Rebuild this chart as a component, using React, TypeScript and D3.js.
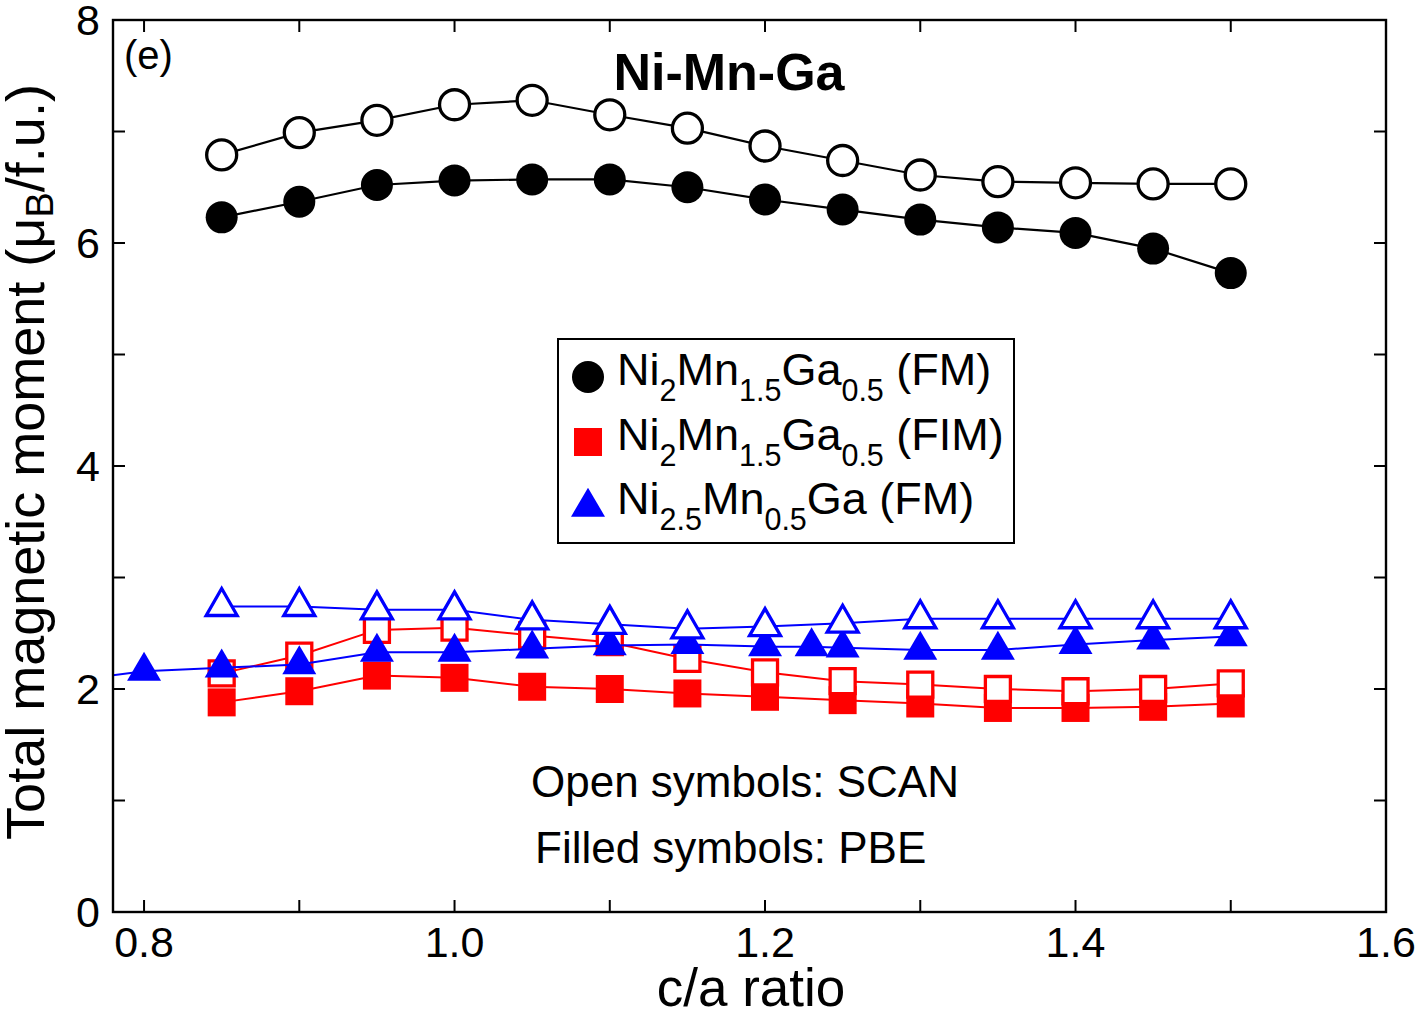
import React from "react";
import * as d3 from "d3";

// c/a ratios sampled for the Ni2Mn1.5Ga0.5 and Ni2.5Mn0.5Ga (SCAN) calculations
const caRatio = [0.85, 0.9, 0.95, 1.0, 1.05, 1.1, 1.15, 1.2, 1.25, 1.3, 1.35, 1.4, 1.45, 1.5];

// Ni2Mn1.5Ga0.5 (FM)
const fmPBE = [6.23, 6.37, 6.52, 6.56, 6.57, 6.57, 6.5, 6.39, 6.3, 6.21, 6.14, 6.09, 5.95, 5.73];
const fmSCAN = [6.79, 6.99, 7.1, 7.24, 7.28, 7.15, 7.03, 6.87, 6.74, 6.61, 6.55, 6.54, 6.53, 6.53];

// Ni2Mn1.5Ga0.5 (FIM)
const fimPBE = [1.88, 1.98, 2.12, 2.1, 2.02, 2.0, 1.96, 1.93, 1.9, 1.87, 1.83, 1.83, 1.84, 1.87];
const fimSCAN = [2.14, 2.3, 2.53, 2.55, 2.48, 2.42, 2.27, 2.15, 2.07, 2.04, 2.0, 1.98, 2.0, 2.05];

// Ni2.5Mn0.5Ga (FM)
const ni25RatioPBE = [0.75, 0.8, 0.85, 0.9, 0.95, 1.0, 1.05, 1.1, 1.15, 1.2, 1.23, 1.25, 1.3, 1.35, 1.4, 1.45, 1.5];
const ni25PBE = [2.07, 2.16, 2.19, 2.22, 2.33, 2.33, 2.36, 2.39, 2.4, 2.38, 2.38, 2.37, 2.35, 2.35, 2.4, 2.44, 2.47];
const ni25SCAN = [2.74, 2.74, 2.71, 2.71, 2.62, 2.58, 2.54, 2.56, 2.59, 2.63, 2.63, 2.63, 2.63, 2.63];

const xTicks = [0.8, 0.9, 1.0, 1.1, 1.2, 1.3, 1.4, 1.5, 1.6];
const xTickLabels = ["0.8", "1.0", "1.2", "1.4", "1.6"];
const yTicks = [0, 1, 2, 3, 4, 5, 6, 7, 8];
const yTickLabels = ["0", "2", "4", "6", "8"];

const W = 1421;
const H = 1015;
const M = { left: 113, right: 1386, top: 20, bottom: 912 };
const FONT = "'Liberation Sans', Arial, Helvetica, sans-serif";

type Shape = "circle" | "square" | "triangle";

function markerPath(shape: Shape, open: boolean): string {
  const p = d3.path();
  if (shape === "circle") {
    const r = open ? 15 : 16;
    p.arc(0, 0, r, 0, Math.PI * 2);
  } else if (shape === "square") {
    const s = open ? 12.5 : 14;
    p.rect(-s, -s, 2 * s, 2 * s);
  } else {
    // triangle anchored at its centroid
    const h = open ? 27 : 29;
    const w = open ? 31 : 34;
    p.moveTo(0, (-2 * h) / 3);
    p.lineTo(w / 2, h / 3);
    p.lineTo(-w / 2, h / 3);
    p.closePath();
  }
  return p.toString();
}

type Series = {
  key: string;
  xs: number[];
  ys: number[];
  color: string;
  shape: Shape;
  open: boolean;
  lineWidth: number;
};

const series: Series[] = [
  { key: "fmPBE", xs: caRatio, ys: fmPBE, color: "#000000", shape: "circle", open: false, lineWidth: 2.2 },
  { key: "fmSCAN", xs: caRatio, ys: fmSCAN, color: "#000000", shape: "circle", open: true, lineWidth: 2.2 },
  { key: "fimPBE", xs: caRatio, ys: fimPBE, color: "#ff0000", shape: "square", open: false, lineWidth: 2 },
  { key: "fimSCAN", xs: caRatio, ys: fimSCAN, color: "#ff0000", shape: "square", open: true, lineWidth: 2 },
  { key: "ni25PBE", xs: ni25RatioPBE, ys: ni25PBE, color: "#0000ff", shape: "triangle", open: false, lineWidth: 2 },
  { key: "ni25SCAN", xs: caRatio, ys: ni25SCAN, color: "#0000ff", shape: "triangle", open: true, lineWidth: 2 },
];

export default function App() {
  const x = d3.scaleLinear().domain([0.78, 1.6]).range([M.left, M.right]);
  const y = d3.scaleLinear().domain([0, 8]).range([M.bottom, M.top]);
  const line = d3
    .line<[number, number]>()
    .x((d) => x(d[0]))
    .y((d) => y(d[1]));

  const tickLen = 12;

  return (
    <svg
      width={W}
      height={H}
      style={{ position: "absolute", left: 0, top: 0, background: "#fff" }}
      fontFamily={FONT}
    >
      <defs>
        <clipPath id="plot-clip">
          <rect x={M.left} y={M.top} width={M.right - M.left} height={M.bottom - M.top} />
        </clipPath>
      </defs>
      <rect x={0} y={0} width={W} height={H} fill="#fff" />

      {/* ticks on all four sides, pointing inward */}
      <g stroke="#000" strokeWidth={2}>
        {xTicks.map((t) => (
          <g key={"xt" + t}>
            <line x1={x(t)} x2={x(t)} y1={M.bottom} y2={M.bottom - tickLen} />
            <line x1={x(t)} x2={x(t)} y1={M.top} y2={M.top + tickLen} />
          </g>
        ))}
        {yTicks.map((t) => (
          <g key={"yt" + t}>
            <line x1={M.left} x2={M.left + tickLen} y1={y(t)} y2={y(t)} />
            <line x1={M.right} x2={M.right - tickLen} y1={y(t)} y2={y(t)} />
          </g>
        ))}
      </g>

      {/* data */}
      <g clipPath="url(#plot-clip)">
        {series.map((s) => {
          const pts = s.xs.map((v, i) => [v, s.ys[i]] as [number, number]);
          const d = markerPath(s.shape, s.open);
          return (
            <g key={s.key}>
              <path d={line(pts) || ""} fill="none" stroke={s.color} strokeWidth={s.lineWidth} />
              {pts.map((p, i) => (
                <path
                  key={i}
                  d={d}
                  transform={`translate(${x(p[0])},${y(p[1])})`}
                  fill={s.open ? "#fff" : s.color}
                  stroke={s.open ? s.color : "none"}
                  strokeWidth={s.open ? 3.3 : 0}
                  strokeLinejoin="miter"
                />
              ))}
            </g>
          );
        })}
      </g>

      {/* frame */}
      <rect
        x={M.left}
        y={M.top}
        width={M.right - M.left}
        height={M.bottom - M.top}
        fill="none"
        stroke="#000"
        strokeWidth={2.4}
      />

      {/* tick labels */}
      <g fontSize={43} fill="#000">
        {xTickLabels.map((t) => (
          <text key={"xl" + t} x={x(+t)} y={957} textAnchor="middle">
            {t}
          </text>
        ))}
        {yTickLabels.map((t) => (
          <text key={"yl" + t} x={100} y={y(+t) + 15} textAnchor="end">
            {t}
          </text>
        ))}
      </g>

      {/* axis titles */}
      <text x={751} y={1006} textAnchor="middle" fontSize={53}>
        c/a ratio
      </text>
      <text transform="translate(44,462) rotate(-90)" textAnchor="middle" fontSize={54}>
        Total magnetic moment (μ
        <tspan fontSize={38} dy={9}>B</tspan>
        <tspan dy={-9}>/f.u.)</tspan>
      </text>

      {/* panel tag and title */}
      <text x={124} y={69} fontSize={40}>
        (e)
      </text>
      <text x={729} y={90} textAnchor="middle" fontSize={52} fontWeight="bold">
        Ni-Mn-Ga
      </text>

      {/* legend */}
      <rect x={558} y={339} width={456} height={204} fill="#fff" stroke="#000" strokeWidth={2} />
      <g>
        <path d={markerPath("circle", false)} transform="translate(588,377)" fill="#000" />
        <path d={markerPath("square", false)} transform="translate(588,442)" fill="#ff0000" />
        <path d={markerPath("triangle", false)} transform="translate(588,507)" fill="#0000ff" />
      </g>
      <g fontSize={45}>
        <text x={617} y={385}>
          Ni<tspan fontSize={30.5} dy={16}>2</tspan>
          <tspan dy={-16}>Mn</tspan>
          <tspan fontSize={30.5} dy={16}>1.5</tspan>
          <tspan dy={-16}>Ga</tspan>
          <tspan fontSize={30.5} dy={16}>0.5</tspan>
          <tspan dy={-16}> (FM)</tspan>
        </text>
        <text x={617} y={450}>
          Ni<tspan fontSize={30.5} dy={16}>2</tspan>
          <tspan dy={-16}>Mn</tspan>
          <tspan fontSize={30.5} dy={16}>1.5</tspan>
          <tspan dy={-16}>Ga</tspan>
          <tspan fontSize={30.5} dy={16}>0.5</tspan>
          <tspan dy={-16}> (FIM)</tspan>
        </text>
        <text x={617} y={514}>
          Ni<tspan fontSize={30.5} dy={16}>2.5</tspan>
          <tspan dy={-16}>Mn</tspan>
          <tspan fontSize={30.5} dy={16}>0.5</tspan>
          <tspan dy={-16}>Ga (FM)</tspan>
        </text>
      </g>

      {/* method note */}
      <g fontSize={44}>
        <text x={531} y={797}>
          Open symbols: SCAN
        </text>
        <text x={535} y={863}>
          Filled symbols: PBE
        </text>
      </g>
    </svg>
  );
}
